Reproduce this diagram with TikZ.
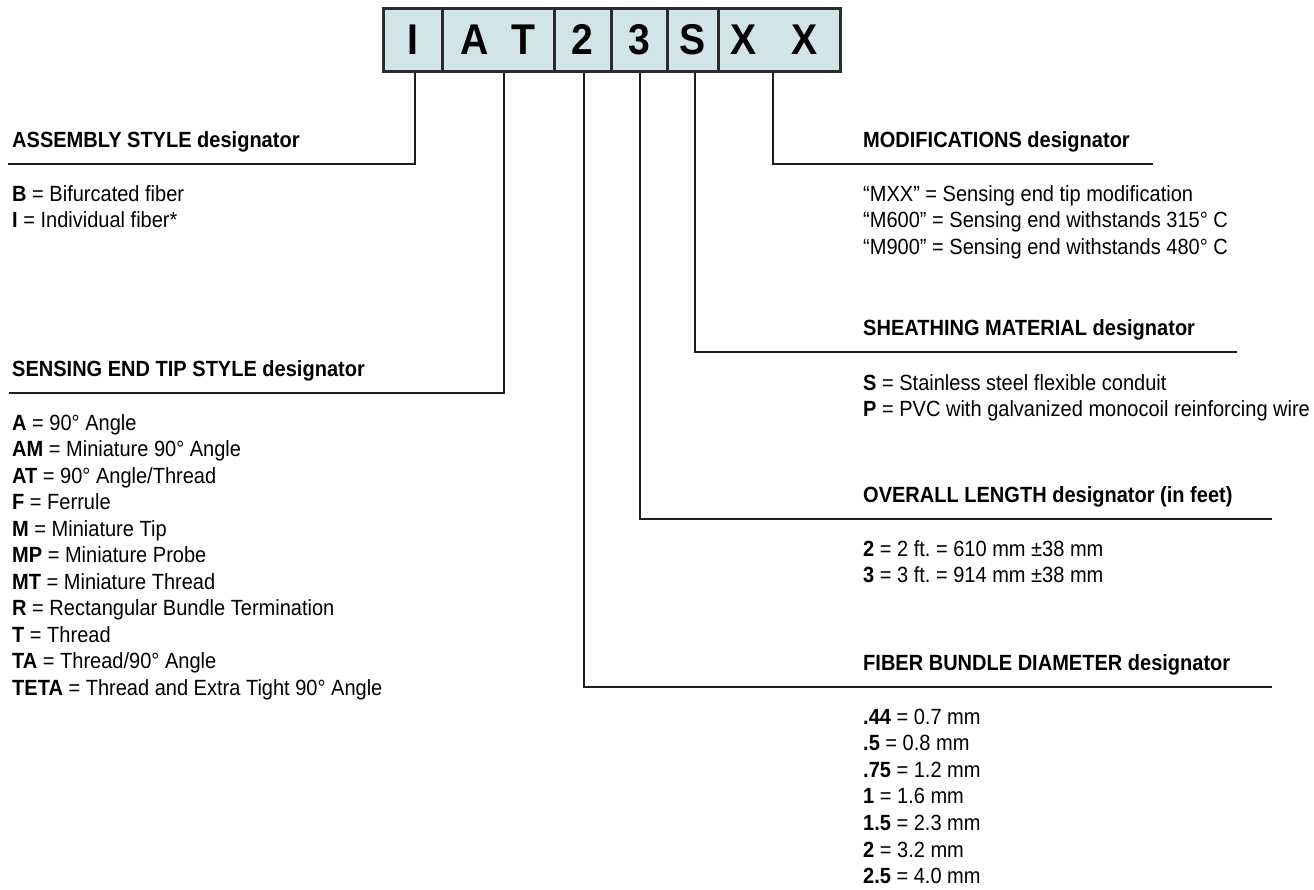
\documentclass[tikz,border=0pt]{standalone}
\usepackage{fontspec}
\setmainfont{Liberation Sans}[FakeStretch=0.91]
\frenchspacing
\usetikzlibrary{positioning}
\definecolor{cellbg}{HTML}{D1E5E8}
\definecolor{cellborder}{HTML}{2B2B2B}
\definecolor{leadline}{HTML}{1E1E1E}

\begin{document}
\begin{tikzpicture}[
    x=1pt, y=-1pt,
    cell/.style={draw=cellborder, fill=cellbg, line width=3pt, minimum height=63pt, inner sep=0pt},
    code/.style={font=\fontsize{43}{43}\selectfont\bfseries, inner sep=0pt},
    lead/.style={draw=leadline, line width=2pt},
    head/.style={anchor=base west, inner sep=0pt, font=\fontsize{22}{26}\selectfont\bfseries},
    item/.style={anchor=base west, inner sep=0pt, font=\fontsize{22}{26}\selectfont}
]
    \useasboundingbox (0,0) rectangle (1314,889);

    % 1. Part number cells (top)
    \node[cell, minimum width=59pt]  (cellI)  at (412.5, 39.5) {};
    \node[cell, minimum width=112pt] (cellAT) at (498, 39.5) {};
    \node[cell, minimum width=57pt]  (cellL)  at (582.5, 39.5) {};
    \node[cell, minimum width=56pt]  (cellD)  at (639, 39.5) {};
    \node[cell, minimum width=51pt]  (cellS)  at (692.5, 39.5) {};
    \node[cell, minimum width=122pt] (cellX)  at (779, 39.5) {};

    \node[code] (chI)  at (cellI) {I};
    \node[code] (chA)  at (475, 39.5) {A};
    \node[code] (chT)  at (523, 39.5) {T};
    \node[code] (chL)  at (cellL) {2};
    \node[code] (chD)  at (cellD) {3};
    \node[code] (chS)  at (cellS) {S};
    \node[code] (chX1) at (744, 39.5) {X};
    \node[code] (chX2) at (805, 39.5) {X};

    % 2. Lead line ends
    \coordinate (asmEnd)    at (8, 164);
    \coordinate (tipEnd)    at (9, 393);
    \coordinate (modEnd)    at (1153, 164);
    \coordinate (sheathEnd) at (1237, 352);
    \coordinate (lenEnd)    at (1272, 519);
    \coordinate (diaEnd)    at (1272, 687);

    % Lead lines
    \draw[lead] ([xshift=2.5pt]cellI.south) |- (asmEnd);
    \draw[lead] ([xshift=6pt]cellAT.south) |- (tipEnd);
    \draw[lead] ([xshift=1.5pt]cellL.south) |- (diaEnd);
    \draw[lead] ([xshift=1pt]cellD.south) |- (lenEnd);
    \draw[lead] ([xshift=2.5pt]cellS.south) |- (sheathEnd);
    \draw[lead] ([xshift=-6pt]cellX.south) |- (modEnd);

    % 3. Left column
    \node[head] (asmHead) at (12, 147) {ASSEMBLY STYLE designator};
    \node[item] (asm0) at (12, 201) {\textbf{B} = Bifurcated fiber};
    \node[item] (asm1) at (12, 227.5) {\textbf{I} = Individual fiber*};

    \node[head] (tipHead) at (12, 376) {SENSING END TIP STYLE designator};
    \foreach \key/\val [count=\i from 0] in {A/{90° Angle}, AM/{Miniature 90° Angle}, AT/{90° Angle/Thread},
        F/{Ferrule}, M/{Miniature Tip}, MP/{Miniature Probe}, MT/{Miniature Thread},
        R/{Rectangular Bundle Termination}, T/{Thread}, TA/{Thread/90° Angle},
        TETA/{Thread and Extra Tight 90° Angle}}
        \node[item] (tip\i) at (12, 430+26.5*\i) {\textbf{\key} = \val};

    % 4. Right column
    \node[head] (modHead) at (863, 147) {MODIFICATIONS designator};
    \node[item] (mod0) at (863, 201) {“MXX” = Sensing end tip modification};
    \node[item] (mod1) at (863, 227.5) {“M600” = Sensing end withstands 315° C};
    \node[item] (mod2) at (863, 254) {“M900” = Sensing end withstands 480° C};

    \node[head] (sheathHead) at (863, 335) {SHEATHING MATERIAL designator};
    \node[item] (sheath0) at (863, 390) {\textbf{S} = Stainless steel flexible conduit};
    \node[item] (sheath1) at (863, 416.5) {\textbf{P} = PVC with galvanized monocoil reinforcing wire};

    \node[head] (lenHead) at (863, 502) {OVERALL LENGTH designator (in feet)};
    \node[item] (len0) at (863, 556) {\textbf{2} = 2 ft. = 610 mm ±38 mm};
    \node[item] (len1) at (863, 582) {\textbf{3} = 3 ft. = 914 mm ±38 mm};

    \node[head] (diaHead) at (863, 670) {FIBER BUNDLE DIAMETER designator};
    \foreach \key/\val [count=\i from 0] in {.44/0.7, .5/0.8, .75/1.2, 1/1.6, 1.5/2.3, 2/3.2, 2.5/4.0}
        \node[item] (dia\i) at (863, 724+26.6*\i) {\textbf{\key} = \val{} mm};

\end{tikzpicture}
\end{document}
